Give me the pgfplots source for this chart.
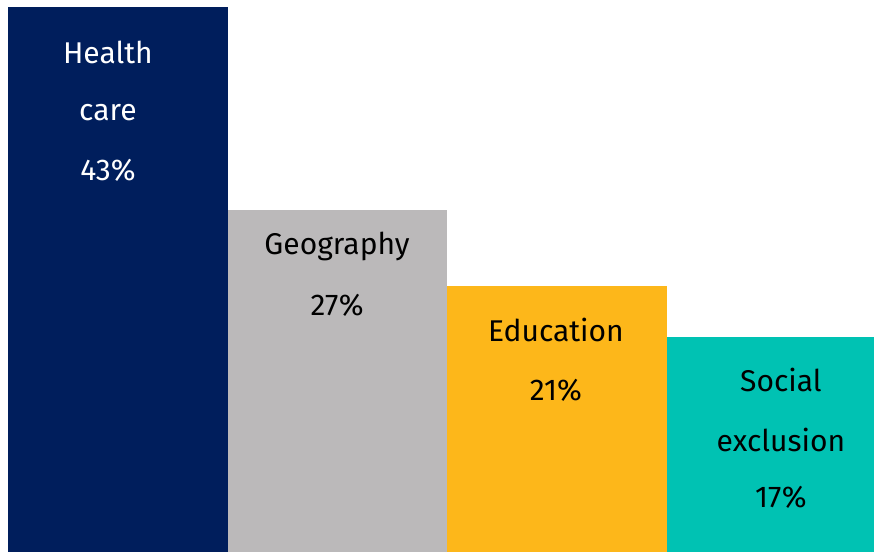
\documentclass[border=0pt]{standalone}
\usepackage{pgfplots}
\pgfplotsset{compat=1.18}
\usepackage{fontspec}
\setmainfont{Fira Sans}
\definecolor{navy}{HTML}{001E5C}
\definecolor{greyb}{HTML}{BBB9BA}
\definecolor{yell}{HTML}{FDB71A}
\definecolor{teal2}{HTML}{00C2B3}
\begin{document}
\begin{tikzpicture}
\begin{axis}[
  width=874pt, height=552pt, scale only axis,
  hide axis,
  xmin=-0.5376, xmax=3.444,
  ymin=0, ymax=43.55,
  ybar, bar width=1, bar shift=0pt,
  clip=true,
]
\path[use as bounding box] (rel axis cs:0,0) rectangle (rel axis cs:1,1);
\addplot[fill=navy, draw=none] coordinates {(0,43)};
\addplot[fill=greyb, draw=none] coordinates {(1,27)};
\addplot[fill=yell, draw=none] coordinates {(2,21)};
\addplot[fill=teal2, draw=none] coordinates {(3,17)};
\begin{scope}[every node/.style={font=\fontsize{30}{36}\selectfont, anchor=center}]
\node[white] at (axis cs:-0.046,39.45) {Health};
\node[white] at (axis cs:-0.046,34.64) {care};
\node[white] at (axis cs:-0.046,30.14) {43\%};
\node at (axis cs:0.998,24.07) {Geography};
\node at (axis cs:0.998,19.49) {27\%};
\node at (axis cs:1.995,17.52) {Education};
\node at (axis cs:1.995,12.78) {21\%};
\node at (axis cs:3.02,13.57) {Social};
\node at (axis cs:3.02,8.84) {exclusion};
\node at (axis cs:3.02,4.34) {17\%};
\end{scope}
\end{axis}
\end{tikzpicture}
\end{document}
